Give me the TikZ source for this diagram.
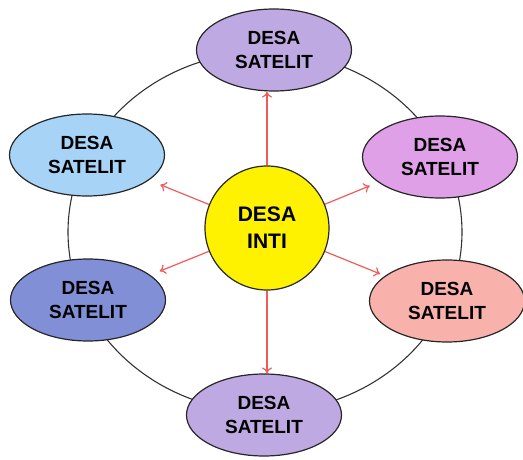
\documentclass[tikz,border=0pt]{standalone}
\usepackage{fontspec}
\setmainfont{Liberation Sans}
\usetikzlibrary{arrows.meta, shapes.geometric}

\definecolor{ungu}{HTML}{BFA9E3}
\definecolor{birumuda}{HTML}{A6D3F6}
\definecolor{orkid}{HTML}{DFA0E8}
\definecolor{biru}{HTML}{8190D6}
\definecolor{salem}{HTML}{F9B1AC}
\definecolor{merah}{HTML}{F05A5A}

\begin{document}
\begin{tikzpicture}[
    x=1pt, y=-1pt,
    desa/.style={
        ellipse,
        draw=black!85,
        line width=1.2pt,
        minimum width=155pt,
        minimum height=82pt,
        inner sep=0pt,
        align=center,
        font=\bfseries\fontsize{19}{24}\selectfont
    },
    inti/.style={
        circle,
        draw=black!85,
        line width=1.2pt,
        fill=yellow,
        minimum size=124pt,
        inner sep=0pt,
        align=center,
        font=\bfseries\fontsize{21}{27}\selectfont
    },
    panah/.style={
        draw=merah,
        line width=1.2pt,
        -{To[length=6pt,width=10pt]}
    }
]
    \useasboundingbox (0,0) rectangle (523,460);

    % --- ring connecting the satellite villages ---
    \draw[line width=1.1pt, black!80] (265,232) ellipse [x radius=197pt, y radius=180pt];

    % --- center ---
    \node[inti] (pusat) at (267,228) {DESA\\INTI};

    % --- satellites ---
    \node[desa, fill=ungu]     (atas)      at (274,50)  {DESA\\SATELIT};
    \node[desa, fill=birumuda] (kiriatas)  at (87,155)  {DESA\\SATELIT};
    \node[desa, fill=orkid]    (kananatas) at (440,157) {DESA\\SATELIT};
    \node[desa, fill=biru]     (kiribawah) at (88,300)  {DESA\\SATELIT};
    \node[desa, fill=salem]    (kananbawah) at (447,301) {DESA\\SATELIT};
    \node[desa, fill=ungu]     (bawah)     at (264,415) {DESA\\SATELIT};

    % --- arrows from the center ---
    \draw[panah] (pusat.north) -- (pusat.north |- atas.south);
    \draw[panah] (pusat.south) -- (pusat.south |- bawah.north);
    \draw[panah, shorten >=12pt] (pusat) -- (kiriatas);
    \draw[panah, shorten >=9pt]  (pusat) -- (kananatas);
    \draw[panah, shorten >=10pt] (pusat) -- (kiribawah);
    \draw[panah, shorten >=5pt]  (pusat) -- (kananbawah);

\end{tikzpicture}
\end{document}
